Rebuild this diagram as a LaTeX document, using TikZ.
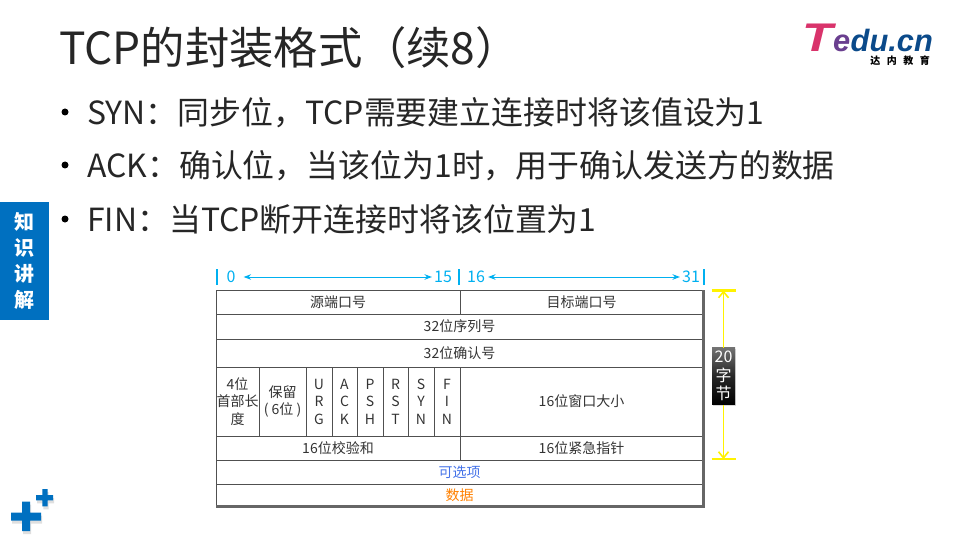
\documentclass[tikz,border=0pt]{standalone}
\usepackage{fontspec}
\setmainfont{Noto Sans CJK SC}
\newfontfamily\logofont{Liberation Sans}
\usepackage{xcolor}
\usepackage{graphicx}
\usetikzlibrary{arrows.meta, positioning, shadows}
\definecolor{barblue}{HTML}{0070C0}
\definecolor{rulecyan}{HTML}{00B0F0}
\definecolor{cellline}{HTML}{505050}
\definecolor{celltext}{HTML}{333333}
\definecolor{logoblue}{HTML}{0B4A8A}
\definecolor{logopink}{HTML}{D9336B}
\definecolor{logomix}{HTML}{6A3F8F}
\definecolor{optblue}{HTML}{4472E8}

\begin{document}
\begin{tikzpicture}[
    x=1pt, y=-1pt,
    >=Stealth,
    cellbox/.style={draw=cellline, line width=1pt, inner sep=0pt, outer sep=0pt, align=center,
                    text=celltext, font=\fontsize{14}{17.5}\selectfont},
    bullettext/.style={anchor=base west, inner sep=0pt, font=\fontsize{31.9}{38}\selectfont, text=black!85},
    dotmark/.style={circle, fill=black, inner sep=0pt, minimum size=7pt},
    bitlabel/.style={text=rulecyan, inner sep=0pt, font=\fontsize{16}{18}\selectfont},
    bitarr/.style={<->, rulecyan, line width=1pt},
    tickline/.style={rulecyan, line width=1.2pt},
    sizearr/.style={{Straight Barb[length=6pt,width=10pt]}-, yellow, line width=1.6pt},
    capline/.style={yellow, line width=2.5pt},
    plusbar/.style={fill=barblue, drop shadow={shadow xshift=1pt, shadow yshift=-3pt, opacity=0.25}},
    logoletter/.style={anchor=base west, inner sep=0pt, text depth=0pt, font=\logofont\bfseries\itshape\fontsize{30.8}{33}\selectfont},
]
\useasboundingbox (0,0) rectangle (960,540);

% heading and bullets
\node[anchor=base west, inner sep=0pt, font=\fontsize{44.3}{50}\selectfont, text=black!85] (title) at (59,64.5) {TCP的封装格式（续8）};

\node[bullettext] (syn) at (87,124.5) {SYN：同步位，TCP需要建立连接时将该值设为1};
\node[bullettext] (ack) at (87,177.5) {ACK：确认位，当该位为1时，用于确认发送方的数据};
\node[bullettext] (fin) at (87,231) {FIN：当TCP断开连接时将该位置为1};
\node[dotmark] (d1) at (65,112) {};
\node[dotmark] (d2) at (65,165) {};
\node[dotmark] (d3) at (65,219) {};

% logo
\node[logoletter, text=logopink, font=\logofont\bfseries\itshape\fontsize{40}{40}\selectfont] (logot) at (802,52) {\scalebox{1.25}[1]{T}};
\node[logoletter, text=logomix, right=0pt of logot.base east, anchor=base west] (logoe) {e};
\node[logoletter, text=logoblue, right=0pt of logoe.base east, anchor=base west] (logotxt) {du.cn};
\node[inner sep=0pt, text=black, font=\bfseries\fontsize{10}{10}\selectfont] (logocn) at (900,60.5) {达\hspace{6.5pt}内\hspace{6.5pt}教\hspace{6.5pt}育};

% side bar
\node[fill=barblue, minimum width=49pt, minimum height=118pt, inner sep=0pt, outer sep=0pt, align=center, text=white,
      font=\bfseries\fontsize{20}{26}\selectfont] (side) at (24.5,261) {知\\识\\讲\\解};

% plus icon
\path[plusbar] (11,512.7) -- ++(11,0) -- ++(0,-11) -- ++(8,0) -- ++(0,11) -- ++(11,0) -- ++(0,8) -- ++(-11,0) -- ++(0,10.5) -- ++(-8,0) -- ++(0,-10.5) -- ++(-11,0) -- cycle;
\path[plusbar] (36,495) -- ++(6.3,0) -- ++(0,-6) -- ++(5.4,0) -- ++(0,6) -- ++(5.3,0) -- ++(0,5.4) -- ++(-5.3,0) -- ++(0,6) -- ++(-5.4,0) -- ++(0,-6) -- ++(-6.3,0) -- cycle;

% table rows
\node[cellbox, anchor=north west, minimum width=244pt, minimum height=24pt] (srcport) at (216,290) {源端口号};
\node[cellbox, right=0pt of srcport, minimum width=243pt, minimum height=24pt] (dstport) {目标端口号};
\node[cellbox, anchor=north west, minimum width=487pt, minimum height=25pt] (seq) at (srcport.south west) {32位序列号};
\node[cellbox, anchor=north west, minimum width=487pt, minimum height=28pt] (acknum) at (seq.south west) {32位确认号};

\node[cellbox, anchor=north west, minimum width=43pt, minimum height=69pt] (hlen) at (acknum.south west) {4位\\首部长\\度};
\node[cellbox, right=0pt of hlen, minimum width=47pt, minimum height=69pt] (resv) {保留\\( 6位 )};
\node[cellbox, right=0pt of resv, minimum width=26pt, minimum height=69pt] (urg) {U\\R\\G};
\node[cellbox, right=0pt of urg, minimum width=25pt, minimum height=69pt] (ackf) {A\\C\\K};
\node[cellbox, right=0pt of ackf, minimum width=26pt, minimum height=69pt] (psh) {P\\S\\H};
\node[cellbox, right=0pt of psh, minimum width=25pt, minimum height=69pt] (rst) {R\\S\\T};
\node[cellbox, right=0pt of rst, minimum width=26pt, minimum height=69pt] (synf) {S\\Y\\N};
\node[cellbox, right=0pt of synf, minimum width=26pt, minimum height=69pt] (finf) {F\\I\\N};
\node[cellbox, right=0pt of finf, minimum width=243pt, minimum height=69pt] (window) {16位窗口大小};

\node[cellbox, anchor=north west, minimum width=244pt, minimum height=24pt] (checksum) at (hlen.south west) {16位校验和};
\node[cellbox, right=0pt of checksum, minimum width=243pt, minimum height=24pt] (urgent) {16位紧急指针};
\node[cellbox, anchor=north west, minimum width=487pt, minimum height=24pt, text=optblue] (options) at (checksum.south west) {可选项};
\node[cellbox, anchor=north west, minimum width=487pt, minimum height=22pt, text=orange] (payload) at (options.south west) {数据};

% table shade
\draw[black!60, line width=3pt] (dstport.north east) -- (payload.south east) -- (payload.south west);

% bit numbers
\coordinate (tick0) at (217,277);
\coordinate (tick16) at (459,277);
\coordinate (tick31) at (704,277);
\draw[tickline] ([yshift=-8pt]tick0) -- ([yshift=8pt]tick0);
\draw[tickline] ([yshift=-8pt]tick16) -- ([yshift=8pt]tick16);
\draw[tickline] ([yshift=-8pt]tick31) -- ([yshift=8pt]tick31);
\node[bitlabel] (b0) at (231,277) {0};
\node[bitlabel] (b15) at (443,277) {15};
\node[bitlabel] (b16) at (476,277) {16};
\node[bitlabel] (b31) at (691,277) {31};
\draw[bitarr] ([xshift=8pt]b0.east) -- ([xshift=-2pt]b15.west);
\draw[bitarr] ([xshift=3pt]b16.east) -- ([xshift=-2pt]b31.west);

% size marker
\node[inner sep=0pt, outer sep=0pt, minimum width=23pt, minimum height=57pt, align=center, text=white,
      top color=black!55, bottom color=black, middle color=black!85, drop shadow={shadow xshift=1pt, shadow yshift=-1pt, opacity=0.3},
      font=\fontsize{16}{18.5}\selectfont] (bytes) at (723.5,376) {20\\字\\节};
\coordinate (captop) at (723.5,290.5);
\coordinate (capbot) at (723.5,459);
\draw[capline] ([xshift=-12pt]captop) -- ([xshift=12pt]captop);
\draw[capline] ([xshift=-12pt]capbot) -- ([xshift=12pt]capbot);
\draw[sizearr] (captop) -- (bytes.north);
\draw[sizearr] (capbot) -- (bytes.south);
\end{tikzpicture}
\end{document}
